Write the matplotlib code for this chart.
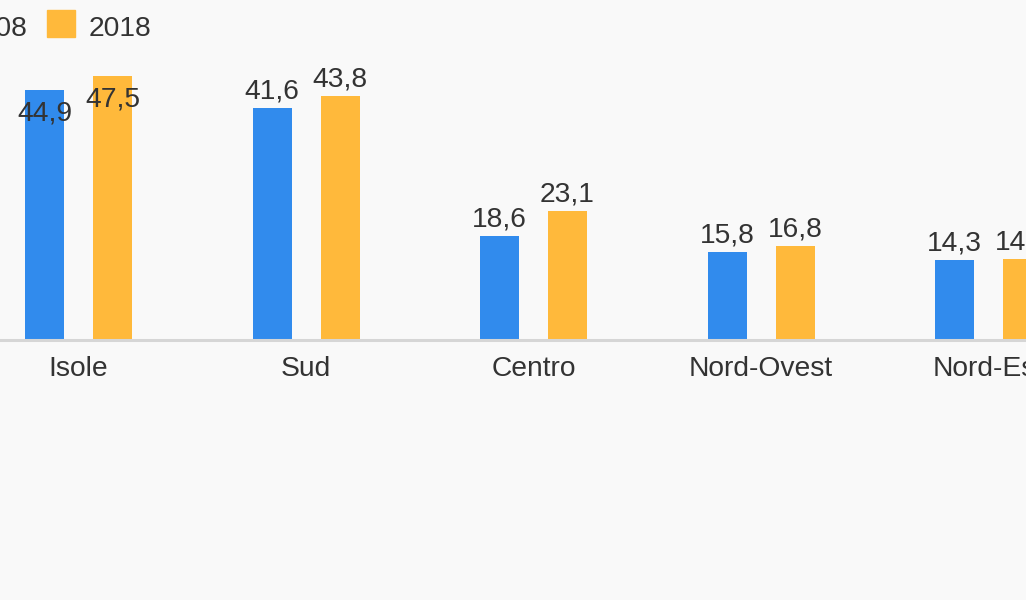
import numpy as np
import matplotlib.pyplot as plt
from matplotlib.patches import Rectangle

plt.rcParams['font.family'] = ['Liberation Sans', 'DejaVu Sans']

regioni = ['Isole', 'Sud', 'Centro', 'Nord-Ovest', 'Nord-Est']
anni = ['2008', '2018']
val_2008 = [44.9, 41.6, 18.6, 15.8, 14.3]
val_2018 = [47.5, 43.8, 23.1, 16.8, 14.5]
colori = ['#318bed', '#ffb93b']

W, H = 1026, 600
fig = plt.figure(figsize=(W / 100, H / 100), dpi=100, facecolor='#f9f9f9')

# l'area del grafico esce dai bordi (immagine ritagliata)
passo = 227.5
x0 = 78.5 - passo / 2
ax = fig.add_axes([x0 / W, 260 / H, 5 * passo / W, 278.4 / H])
ax.set_facecolor('none')
ax.set_xlim(-0.5, 4.5)
ax.set_ylim(0, 50)

x = np.arange(len(regioni))
larg = 39 / passo
off = 34 / passo
ax.bar(x - off, val_2008, larg, color=colori[0])
ax.bar(x + off, val_2018, larg, color=colori[1])

fs = 20.3

def etichette(xs, vals):
    for xi, v in zip(xs, vals):
        testo = f'{v:.1f}'.replace('.', ',')
        dy = -17.2 if v > 44 else 12.2
        ax.annotate(testo, (xi, v), xytext=(0, dy), textcoords='offset points',
                    ha='center', va='center', fontsize=fs, color='#333333')

etichette(x - off, val_2008)
etichette(x + off, val_2018)

ax.set_xticks(x)
ax.set_xticklabels(regioni, fontsize=fs, color='#333333')
ax.tick_params(axis='x', length=0, pad=11.3)
ax.set_yticks([])
for s in ['top', 'left', 'right']:
    ax.spines[s].set_visible(False)
ax.spines['bottom'].set_color('#d6d6d6')
ax.spines['bottom'].set_linewidth(2.2)

# legenda
for i, (anno, col) in enumerate(zip(anni, colori)):
    lx = 47 - (1 - i) * 124
    fig.patches.append(Rectangle((lx / W, 1 - 37 / H), 28 / W, 27 / H,
                                 transform=fig.transFigure, color=col))
    fig.text((lx + 42) / W, 1 - 29 / H, anno, fontsize=fs, color='#333333',
             va='center', ha='left')

fig.savefig('out.png', dpi=100, facecolor=fig.get_facecolor())
